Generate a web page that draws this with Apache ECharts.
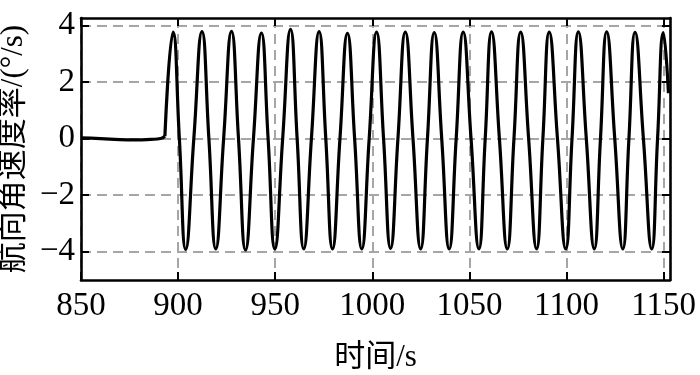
<!DOCTYPE html>
<html>
<head>
<meta charset="utf-8">
<script src="https://cdn.jsdelivr.net/npm/echarts@6/dist/echarts.min.js"></script>
<style>
html,body{margin:0;padding:0;background:#fff;}
#c{width:700px;height:375px;}
</style>
</head>
<body>
<div id="c"></div>
<script>
// ---- data ----
const xTicks = [850, 900, 950, 1000, 1050, 1100, 1150];
const yTicks = [-4, -2, 0, 2, 4];

// quiet part before the oscillation starts
const flatTimes = [850, 860, 870, 878, 886, 891, 893.2];
const flatVals  = [0.02, 0.0, -0.04, -0.05, -0.03, 0.0, 0.08];

// oscillation: extrema and zero crossings
const waveTimes = [893.2, 897.4, 900.65, 903.9, 908.1, 912.3, 915.85, 919.4, 923.45, 927.5,
  931.1, 934.7, 938.8, 942.9, 946.35, 949.8, 953.85, 957.9, 961.3, 964.7,
  968.65, 972.6, 976.05, 979.5, 983.35, 987.2, 990.9, 994.6, 998.4, 1002.2,
  1005.8, 1009.4, 1013.2, 1017.0, 1020.95, 1024.9, 1028.4, 1031.9, 1035.75, 1039.6,
  1043.2, 1046.8, 1050.85, 1054.9, 1058.15, 1061.4, 1065.45, 1069.5, 1072.95, 1076.4,
  1080.5, 1084.6, 1087.85, 1091.1, 1095.35, 1099.6, 1102.85, 1106.1, 1110.2, 1114.3,
  1117.5, 1120.7, 1124.85, 1129.0, 1132.15, 1135.3, 1139.6, 1143.9, 1146.9, 1149.9, 1152.5];
const waveVals = [0.08, 3.76, 0, -3.92, 0, 3.78, 0, -3.90, 0, 3.79,
  0, -3.94, 0, 3.73, 0, -3.90, 0, 3.86, 0, -3.90,
  0, 3.78, 0, -3.90, 0, 3.72, 0, -3.90, 0, 3.76,
  0, -3.88, 0, 3.76, 0, -3.90, 0, 3.74, 0, -3.90,
  0, 3.76, 0, -3.90, 0, 3.77, 0, -3.90, 0, 3.76,
  0, -3.90, 0, 3.76, 0, -3.90, 0, 3.77, 0, -3.90,
  0, 3.77, 0, -3.90, 0, 3.75, 0, -3.90, 0, 3.74, 1.6];

const xName = '时间/s';
const yName = '航向角速度率/(°/s)';

const font = '"Liberation Serif", "Noto Sans CJK SC", serif';
const black = '#000';
const gridCol = '#a6a6a6';

const flatData = flatTimes.map((t, i) => [t, flatVals[i]]);
const waveData = waveTimes.map((t, i) => [t, waveVals[i]]);

const chart = echarts.init(document.getElementById('c'), null, {renderer: 'canvas'});

const minusFmt = v => String(v).replace('-', '\u2212');
const plainFmt = v => String(v);

chart.setOption({
  animation: false,
  backgroundColor: '#fff',
  grid: {left: 81, right: 30, top: 18, bottom: 95, containLabel: false, outerBoundsMode: 'none'},
  xAxis: [{
    type: 'value', position: 'bottom', min: 850, max: 1153.3,
    name: xName, nameLocation: 'middle', nameGap: 62,
    nameTextStyle: {fontFamily: font, fontSize: 31, color: black},
    axisLine: {onZero: false, lineStyle: {color: black, width: 2.6}},
    axisTick: {inside: true, length: 8, customValues: xTicks, lineStyle: {color: black, width: 2}},
    axisLabel: {customValues: xTicks, margin: 10, fontFamily: font, fontSize: 33, color: black, formatter: plainFmt},
    splitLine: {show: true, lineStyle: {color: gridCol, width: 2, type: [10, 6]}}
  }, {
    type: 'value', position: 'top', min: 850, max: 1153.3,
    axisLine: {onZero: false, lineStyle: {color: black, width: 2.6}},
    axisTick: {inside: true, length: 8, customValues: xTicks, lineStyle: {color: black, width: 2}},
    axisLabel: {show: false},
    splitLine: {show: false}
  }],
  yAxis: [{
    type: 'value', position: 'left', min: -5, max: 4.26,
    name: yName, nameLocation: 'middle', nameGap: 46,
    nameTextStyle: {fontFamily: font, fontSize: 31, color: black},
    axisLine: {onZero: false, lineStyle: {color: black, width: 2.6}},
    axisTick: {inside: true, length: 8, customValues: yTicks, lineStyle: {color: black, width: 2}},
    axisLabel: {customValues: yTicks, margin: 6, fontFamily: font, fontSize: 33, color: black, formatter: minusFmt},
    splitLine: {show: true, lineStyle: {color: gridCol, width: 2, type: [10, 6]}}
  }, {
    type: 'value', position: 'right', min: -5, max: 4.26,
    axisLine: {onZero: false, lineStyle: {color: black, width: 2.6}},
    axisTick: {inside: true, length: 8, customValues: yTicks, lineStyle: {color: black, width: 2}},
    axisLabel: {show: false},
    splitLine: {show: false}
  }],
  series: [{
    type: 'line', data: flatData, xAxisIndex: 0, yAxisIndex: 0,
    showSymbol: false, smooth: 0.5, clip: true,
    lineStyle: {color: black, width: 3.2}
  }, {
    type: 'line', data: waveData, xAxisIndex: 0, yAxisIndex: 0,
    showSymbol: false, smooth: 0.5, clip: true,
    lineStyle: {color: black, width: 3.2}
  }]
});
</script>
</body>
</html>
